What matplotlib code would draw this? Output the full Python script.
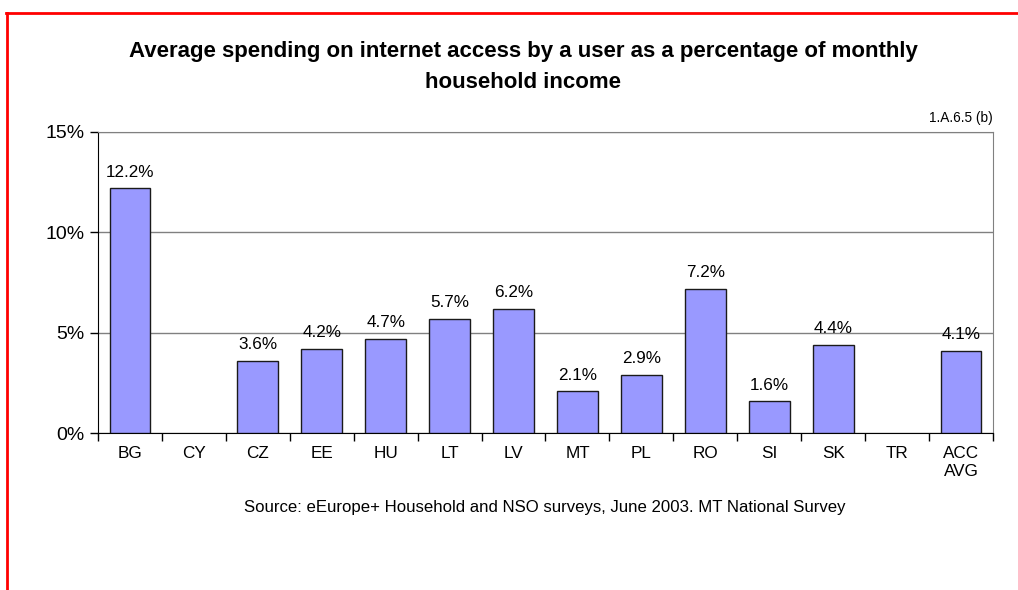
import numpy as np
import matplotlib
matplotlib.use("Agg")
import matplotlib.pyplot as plt
from matplotlib.lines import Line2D
from matplotlib.ticker import FuncFormatter, MultipleLocator

plt.rcParams['font.family'] = ['Liberation Sans', 'DejaVu Sans']

# Country codes and spending share (%); None where no figure is available
countries = ["BG", "CY", "CZ", "EE", "HU", "LT", "LV", "MT", "PL", "RO",
             "SI", "SK", "TR", "ACC\nAVG"]
spending = [12.2, None, 3.6, 4.2, 4.7, 5.7, 6.2, 2.1, 2.9, 7.2,
            1.6, 4.4, None, 4.1]

title_lines = ["Average spending on internet access by a user as a percentage of monthly",
               "household income"]
ref_code = "1.A.6.5 (b)"
source = "Source: eEurope+ Household and NSO surveys, June 2003. MT National Survey"

fig = plt.figure(figsize=(10.18, 5.9), dpi=100)
ax = fig.add_axes([0.0963, 0.2661, 0.8791, 0.5102])

x = np.arange(len(countries))
vals = np.array([np.nan if v is None else v for v in spending])
bars = ax.bar(x, np.nan_to_num(vals), width=0.64, color="#9999FF",
              edgecolor="#1a1a1a", linewidth=1.0, zorder=3)
for b, v in zip(bars, vals):
    if np.isnan(v):
        b.set_visible(False)
        continue
    ax.annotate(f"{v:.1f}%", (b.get_x() + b.get_width() / 2, v),
                xytext=(0, 6), textcoords="offset points",
                ha="center", va="bottom", fontsize=12.3)

ax.set_xlim(-0.5, len(countries) - 0.5)
ax.set_ylim(0, 15)
ax.yaxis.set_major_locator(MultipleLocator(5))
ax.yaxis.set_major_formatter(FuncFormatter(lambda v, _: f"{v:.0f}%"))
ax.grid(axis="y", color="#808080", linewidth=1.0, zorder=1)

# category labels sit between boundary ticks
ax.set_xticks(x)
ax.set_xticklabels(countries, fontsize=12.3, linespacing=1.25)
ax.tick_params(axis="x", length=0, pad=9)
ax.set_xticks(np.arange(len(countries) + 1) - 0.5, minor=True)
ax.tick_params(axis="x", which="minor", length=6, width=1, direction="out")
ax.tick_params(axis="y", length=6, width=1, direction="out", labelsize=14, pad=4)

for side in ("left", "bottom"):
    ax.spines[side].set_color("black")
for side in ("top", "right"):
    ax.spines[side].set_color("#808080")

for line, ypos in zip(title_lines, (0.903, 0.851)):
    fig.text(0.514, ypos, line, ha="center", va="baseline", fontsize=16,
             fontweight="bold")
fig.text(0.975, 0.8, ref_code, ha="right", va="center", fontsize=9.8)
fig.text(0.535, 0.139, source, ha="center", va="center", fontsize=12.1)

# red frame along the top and left edges
fig.add_artist(Line2D([0.006, 1.0], [0.978, 0.978], color="red", linewidth=2))
fig.add_artist(Line2D([0.007, 0.007], [0.0, 0.978], color="red", linewidth=2))

fig.savefig("out.png", dpi=100)
